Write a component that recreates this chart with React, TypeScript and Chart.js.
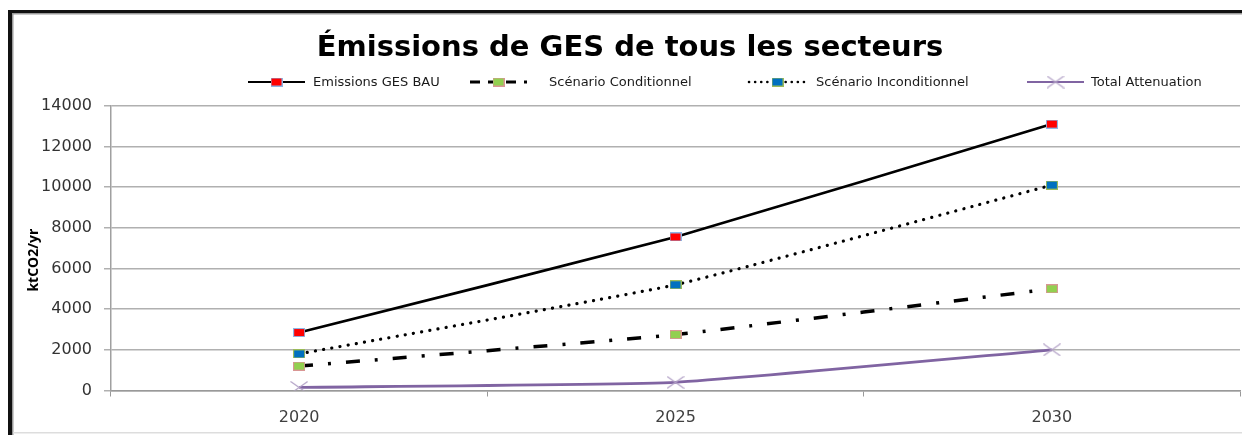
import React, { useEffect, useRef } from "react";
import { Chart, registerables } from "chart.js";
Chart.register(...registerables);

// ---- data ----
const years = ["2020", "2025", "2030"];
const bauValues = [2850, 7550, 13100];
const conditionnelValues = [1200, 2750, 5000];
const inconditionnelValues = [1800, 5200, 10100];
const attenuationValues = [150, 400, 2000];
const seriesNames = [
  "Emissions GES BAU",
  "Scénario Conditionnel",
  "Scénario Inconditionnel",
  "Total Attenuation",
];
const titleText = "Émissions de GES de tous les secteurs";
const yAxisTitle = "ktCO2/yr";
const yMin = 0;
const yMax = 14000;
const yStep = 2000;

// ---- styles ----
const FONT = "'DejaVu Sans', sans-serif";
const legendStarts = [248, 470, 749, 1027];
const legendTextOffset = [65, 79, 67, 64];
const LEGEND_Y = 82;

function rectMarker(fill: string, stroke: string, w = 12, h = 9) {
  const c = document.createElement("canvas");
  c.width = w;
  c.height = h;
  const g = c.getContext("2d")!;
  g.fillStyle = stroke;
  g.fillRect(0, 0, w, h);
  g.fillStyle = fill;
  g.fillRect(1, 1, w - 2, h - 2);
  return c;
}
function crossMarker(color: string, w = 18, h = 13) {
  const c = document.createElement("canvas");
  c.width = w;
  c.height = h;
  const g = c.getContext("2d")!;
  g.strokeStyle = color;
  g.lineWidth = 1.2;
  g.beginPath();
  g.moveTo(0.5, 0.5);
  g.lineTo(w - 0.5, h - 0.5);
  g.moveTo(w - 0.5, 0.5);
  g.lineTo(0.5, h - 0.5);
  g.stroke();
  return c;
}

export default function App() {
  const ref = useRef<HTMLCanvasElement | null>(null);
  useEffect(() => {
    if (!ref.current) return;
    const markers = [
      rectMarker("#FF0000", "#8EB4E3"),
      rectMarker("#92D050", "#D99694"),
      rectMarker("#0070C0", "#9BBB59"),
      crossMarker("#B3A2C7"),
    ];
    const lineStyles = [
      { color: "#000000", width: 2.6, dash: [] as number[], cap: "butt" },
      { color: "#000000", width: 3.5, dash: [14, 15, 3, 15], cap: "butt" },
      { color: "#000000", width: 3.2, dash: [0.1, 8.2], cap: "round" },
      { color: "#8064A2", width: 2.8, dash: [] as number[], cap: "butt" },
    ];
    const values = [bauValues, conditionnelValues, inconditionnelValues, attenuationValues];

    const framePlugin = {
      id: "frame",
      beforeDraw(chart: any) {
        const ctx = chart.ctx;
        ctx.save();
        ctx.fillStyle = "#ffffff";
        ctx.fillRect(0, 0, chart.width, chart.height);
        ctx.fillStyle = "#111111";
        ctx.fillRect(8, 10, 4, chart.height - 10);
        ctx.fillRect(8, 10, chart.width - 8, 3);
        ctx.fillStyle = "#9a9a9a";
        ctx.fillRect(12, 13, 1.5, chart.height - 13);
        ctx.fillRect(12, 13, chart.width - 12, 1.5);
        ctx.fillStyle = "#dddddd";
        ctx.fillRect(13, 432, chart.width - 13, 1.5);
        ctx.restore();
      },
    };

    const legendPlugin = {
      id: "customLegend",
      afterDraw(chart: any) {
        const ctx = chart.ctx;
        ctx.save();
        // y axis title
        const area = chart.chartArea;
        ctx.translate(34, (area.top + area.bottom) / 2 + 12);
        ctx.rotate(-Math.PI / 2);
        ctx.fillStyle = "#000000";
        ctx.font = `bold 14px 'Open Sans', sans-serif`;
        ctx.textAlign = "center";
        ctx.textBaseline = "middle";
        ctx.fillText(yAxisTitle, 0, 0);
        ctx.restore();

        ctx.save();
        chart.data.datasets.forEach((ds: any, i: number) => {
          const x0 = legendStarts[i];
          const x1 = x0 + 57;
          const st = lineStyles[i];
          ctx.beginPath();
          ctx.strokeStyle = st.color;
          ctx.lineWidth = st.width * 0.8;
          ctx.lineCap = st.cap;
          ctx.setLineDash(i === 1 ? [10, 8] : i === 2 ? [0.1, 6] : []);
          ctx.moveTo(x0, LEGEND_Y);
          ctx.lineTo(x1, LEGEND_Y);
          ctx.stroke();
          ctx.setLineDash([]);
          const m = markers[i];
          ctx.drawImage(m, (x0 + x1) / 2 - m.width / 2, LEGEND_Y - m.height / 2);
          ctx.fillStyle = "#1a1a1a";
          ctx.font = `13px ${FONT}`;
          ctx.textBaseline = "middle";
          ctx.textAlign = "left";
          ctx.fillText(ds.label, x0 + legendTextOffset[i], LEGEND_Y + 1);
        });
        ctx.restore();
      },
    };

    const chart = new Chart(ref.current, {
      type: "line",
      data: {
        labels: years,
        datasets: values.map((v, i) => ({
          label: seriesNames[i],
          data: v,
          borderColor: lineStyles[i].color,
          borderWidth: lineStyles[i].width,
          borderDash: lineStyles[i].dash,
          borderCapStyle: lineStyles[i].cap as any,
          pointStyle: markers[i] as any,
          pointRadius: 6,
          tension: 0.12,
          fill: false,
        })),
      },
      options: {
        animation: false,
        responsive: true,
        maintainAspectRatio: false,
        layout: { autoPadding: false, padding: { left: 20, right: 2, top: 0, bottom: 0 } },
        plugins: {
          legend: { display: false },
          tooltip: { enabled: false },
          title: {
            display: true,
            text: titleText,
            color: "#000000",
            font: { family: FONT, size: 29, weight: "bold" },
            padding: { top: 31, bottom: 40 },
          },
        },
        scales: {
          x: {
            type: "category",
            offset: true,
            grid: {
              display: true,
              drawOnChartArea: false,
              drawTicks: true,
              tickLength: 6,
              color: "#999999",
              offset: true,
            },
            border: { display: true, color: "#999999", width: 1.5 },
            ticks: { color: "#404040", font: { family: FONT, size: 16 }, padding: 12 },
            afterFit: (s: any) => {
              s.height = 44.5;
              s.paddingLeft = 0;
              s.paddingRight = 0;
            },
          },
          y: {
            min: yMin,
            max: yMax,
            ticks: {
              stepSize: yStep,
              color: "#333333",
              font: { family: FONT, size: 16 },
              padding: 12,
              callback: (v: any) => String(v),
            },
            grid: { color: "#b0b0b0", lineWidth: 1.5, tickLength: 7, drawTicks: true },
            border: { display: true, color: "#a0a0a0", width: 1.5 },
            title: { display: false },
            afterFit: (s: any) => {
              s.width = 91;
            },
          },
        },
      },
      plugins: [framePlugin, legendPlugin],
    });
    return () => chart.destroy();
  }, []);

  return (
    <div style={{ position: "fixed", left: 0, top: 0, width: 1242, height: 435, background: "#fff" }}>
      <canvas ref={ref} />
    </div>
  );
}
